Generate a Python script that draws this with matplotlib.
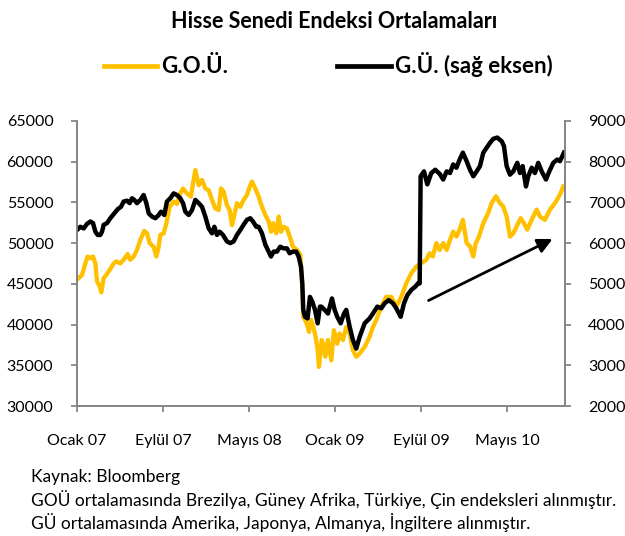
import matplotlib
matplotlib.use("Agg")
from matplotlib import pyplot as plt
from matplotlib.lines import Line2D

plt.rcParams['font.family'] = ['Lato', 'DejaVu Sans']

# ay: Ocak 2007'den itibaren geçen ay sayısı
gou_ay = [0, 0.47, 0.78, 0.99, 1.24, 1.49, 1.71, 1.86, 2.11, 2.26, 2.48, 2.73, 3.04, 3.41, 3.66,
          4.03, 4.34, 4.71, 4.96, 5.27, 5.58, 5.89, 6.26, 6.51, 6.76, 7.13, 7.38, 7.60, 7.75, 8.06,
          8.31, 8.62, 8.99, 9.30, 9.61, 9.86, 10.23, 10.60, 10.79, 11.01, 11.32, 11.63, 11.94, 12.25,
          12.56, 12.87, 13.18, 13.40, 13.64, 13.95, 14.20, 14.42, 14.57, 14.88, 15.19, 15.50, 15.81,
          16.12, 16.28, 16.59, 16.90, 17.21, 17.52, 17.83, 18.05, 18.23, 18.54, 18.76, 18.98, 19.22,
          19.53, 19.84, 20.09, 20.47, 20.78, 20.84, 20.96, 21.05, 21.37, 21.58, 21.77, 21.99, 22.20,
          22.39, 22.51, 22.76, 22.88, 23.10, 23.35, 23.66, 23.90, 24.21, 24.43, 24.74, 25.05, 25.37,
          25.67, 25.98, 26.30, 26.76, 27.22, 27.53, 27.84, 28.31, 28.77, 29.24, 29.70, 30.17, 30.63,
          31.10, 31.56, 32.03, 32.50, 32.80, 33.10, 33.43, 33.74, 34.07, 34.39, 34.70, 35.00, 35.30,
          35.60, 35.90, 36.25, 36.56, 36.87, 37.10, 37.40, 37.80, 38.26, 38.57, 38.98, 39.35, 39.65,
          39.97, 40.28, 40.59, 40.90, 41.27, 41.58, 41.89, 42.30, 42.76, 43.07, 43.53, 44.00, 44.46,
          44.93, 45.24]
gou = [45500, 46100, 47500, 48350, 48150, 48350, 47500, 45300, 44700, 43950, 45700, 46100, 46700,
       47500, 47750, 47500, 47950, 48650, 47950, 48350, 49150, 50400, 51500, 51200, 50000, 49550,
       48350, 49550, 51000, 51200, 52400, 54450, 55100, 54800, 56100, 56700, 56100, 55700, 57300,
       58950, 57100, 57750, 56700, 56500, 55300, 54250, 54050, 56700, 56300, 54650, 54050, 52200,
       53050, 54900, 54450, 55300, 55900, 57100, 57550, 56700, 55700, 54450, 53450, 52650, 51400,
       52450, 51200, 53250, 51400, 52000, 51800, 50600, 49550, 49150, 48550, 47100, 44650, 40950,
       40150, 39100, 40550, 39700, 38500, 36850, 34800, 38100, 37650, 36050, 38100, 35600, 39300,
       37650, 38900, 38100, 39700, 38900, 36850, 36050, 36450, 37250, 38500, 39700, 40550, 42200,
       43400, 43400, 42200, 43400, 45050, 46300, 47100, 47550, 47950, 48750, 48350, 50000, 49150,
       50000, 49150, 50400, 51400, 50800, 51650, 52850, 50000, 49600, 48350, 50000, 50800, 52450,
       53700, 54900, 55750, 54900, 54500, 53250, 50800, 51200, 52050, 53050, 52450, 51650, 52850,
       54100, 53250, 52850, 54100, 54900, 55950, 56950]

gu_ay = [0, 0.31, 0.62, 0.93, 1.24, 1.49, 1.71, 1.92, 2.17, 2.33, 2.48, 2.79, 3.10, 3.47, 3.78,
         4.09, 4.34, 4.65, 4.90, 5.12, 5.33, 5.58, 5.89, 6.20, 6.45, 6.67, 6.98, 7.29, 7.60, 7.81,
         8.12, 8.37, 8.68, 8.99, 9.30, 9.61, 9.86, 10.08, 10.39, 10.70, 11.01, 11.32, 11.63, 11.94,
         12.25, 12.56, 12.78, 13.02, 13.27, 13.58, 13.95, 14.26, 14.57, 14.88, 15.19, 15.50, 15.81,
         16.12, 16.37, 16.68, 16.90, 17.21, 17.52, 17.83, 18.05, 18.29, 18.60, 18.91, 19.22, 19.53,
         19.78, 20.09, 20.40, 20.62, 20.84, 20.96, 21.05, 21.21, 21.45, 21.67, 21.89, 22.14, 22.39,
         22.60, 22.73, 23.04, 23.35, 23.72, 23.97, 24.21, 24.53, 24.84, 25.05, 25.37, 25.67, 25.98,
         26.30, 26.76, 27.22, 27.53, 27.94, 28.31, 28.62, 29.00, 29.40, 29.70, 30.11, 30.42, 30.73,
         31.10, 31.47, 31.72, 31.88, 31.97, 32.28, 32.59, 32.96, 33.33, 33.74, 34.07, 34.39, 34.70,
         35.00, 35.30, 35.60, 35.90, 36.25, 36.56, 36.87, 37.18, 37.49, 37.80, 38.11, 38.42, 38.73,
         39.10, 39.51, 39.72, 39.97, 40.28, 40.59, 40.96, 41.21, 41.46, 41.77, 41.98, 42.30, 42.60,
         42.91, 43.23, 43.63, 43.94, 44.31, 44.68, 44.93, 45.30]
gu = [6320, 6400, 6360, 6470, 6530, 6490, 6280, 6200, 6200, 6280, 6450, 6490, 6610, 6730, 6830,
      6890, 7020, 7040, 6980, 7100, 7060, 6980, 7060, 7180, 6980, 6730, 6650, 6610, 6690, 6770,
      6690, 7020, 7100, 7220, 7180, 7100, 6980, 6770, 6690, 6810, 7060, 6980, 6890, 6650, 6360,
      6240, 6400, 6200, 6280, 6200, 6040, 6000, 6040, 6200, 6320, 6450, 6570, 6610, 6530, 6400,
      6400, 6240, 5960, 5790, 5670, 5790, 5790, 5910, 5870, 5870, 5750, 5790, 5790, 5670, 5420,
      5010, 4360, 4190, 4150, 4680, 4560, 4360, 4030, 4440, 4440, 4360, 4270, 4640, 4360, 4190,
      4030, 4270, 4360, 3940, 3620, 3410, 3700, 4030, 4150, 4270, 4440, 4400, 4520, 4600, 4520,
      4400, 4190, 4520, 4720, 4850, 4930, 5010, 5010, 7640, 7760, 7440, 7720, 7800, 7700, 7560,
      7760, 7720, 7930, 7850, 8050, 8220, 8010, 7800, 7640, 7760, 7890, 8220, 8340, 8460, 8560,
      8590, 8500, 8380, 7890, 7680, 7760, 7970, 7720, 7890, 7390, 7640, 7850, 7720, 7970, 7760,
      7560, 7760, 7970, 8050, 8010, 8220]

tick_ay = [0, 8, 16, 24, 32, 40]
tick_etiket = ["Ocak 07", "Eylül 07", "Mayıs 08", "Ocak 09", "Eylül 09", "Mayıs 10"]

sol_eksen = list(range(30000, 65001, 5000))
sag_eksen = list(range(2000, 9001, 1000))

turuncu = "#FFC000"
gri = "#868686"

fig = plt.figure(figsize=(6.25, 5.36), dpi=100)
ax = fig.add_axes([0.1232, 0.2425, 0.7808, 0.532])
ax2 = ax.twinx()

ax.plot(gou_ay, gou, color=turuncu, lw=3.1, solid_joinstyle="round")
ax2.plot(gu_ay, gu, color="black", lw=3.2, solid_joinstyle="round")

ax.set_xlim(0, 45.4)
ax.set_ylim(30000, 65000)
ax2.set_ylim(2000, 9000)
ax.set_yticks(sol_eksen)
ax2.set_yticks(sag_eksen)
ax.set_xticks(tick_ay)
ax.set_xticklabels(tick_etiket)

for a in (ax, ax2):
    a.spines["top"].set_visible(False)
    for s in ("left", "right", "bottom"):
        a.spines[s].set_color(gri)
        a.spines[s].set_linewidth(1.3)
    a.tick_params(axis="both", color=gri, width=1.3, length=4.5, labelsize=11.5, labelcolor="black")
ax.tick_params(axis="y", pad=12.5)
ax2.tick_params(axis="y", pad=12)
ax.tick_params(axis="x", pad=16)

# trend oku
ax.annotate("", xy=(44.47, 50650), xytext=(32.47, 42800),
            arrowprops=dict(arrowstyle="-|>", color="black", lw=2, mutation_scale=22))

fig.text(0.535, 1 - 21 / 536, "Hisse Senedi Endeksi Ortalamaları",
         ha="center", va="center", fontsize=15.5, fontweight="bold")

handles = [Line2D([], [], color=turuncu, lw=3.4), Line2D([], [], color="black", lw=3.4)]
fig.legend(handles, ["G.O.Ü.", "G.Ü. (sağ eksen)"], loc="center", bbox_to_anchor=(0.525, 0.879),
           ncol=2, frameon=False, handlelength=2.4, handletextpad=0.2, columnspacing=4.9,
           prop=dict(size=16, weight="bold"))

notlar = ["Kaynak: Bloomberg",
          "GOÜ ortalamasında Brezilya, Güney Afrika, Türkiye, Çin endeksleri alınmıştır.",
          "GÜ ortalamasında Amerika, Japonya, Almanya, İngiltere alınmıştır."]
for i, satir in enumerate(notlar):
    fig.text(31 / 625, 1 - (477 + 22.5 * i) / 536, satir, ha="left", va="center", fontsize=12.5)

fig.savefig("out.png", dpi=100)
